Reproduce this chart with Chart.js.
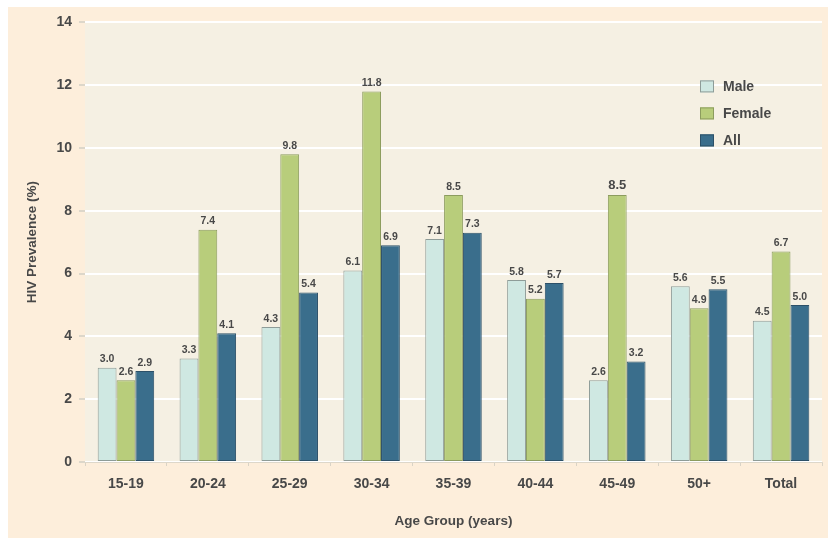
<!DOCTYPE html>
<html>
<head>
<meta charset="utf-8">
<title>HIV Prevalence by Age Group</title>
<script src="https://cdn.jsdelivr.net/npm/chart.js@4.4.1/dist/chart.umd.min.js"></script>
<style>
  html, body { margin: 0; padding: 0; background: #fff; }
  .wrap { position: absolute; left: 8px; top: 7px; width: 820px; height: 531px; background: #fdeedb; }
  canvas { display: block; }
</style>
</head>
<body>
<div class="wrap"><canvas id="chart" width="820" height="531"></canvas></div>
<script>
/* ── DATA ── */
const ageGroups = ['15-19', '20-24', '25-29', '30-34', '35-39', '40-44', '45-49', '50+', 'Total'];
const male   = [3.0, 3.3, 4.3, 6.1, 7.1, 5.8, 2.6, 5.6, 4.5];
const female = [2.6, 7.4, 9.8, 11.8, 8.5, 5.2, 8.5, 4.9, 6.7];
const all    = [2.9, 4.1, 5.4, 6.9, 7.3, 5.7, 3.2, 5.5, 5.0];
const yTicks = [0, 2, 4, 6, 8, 10, 12, 14];

/* ── COLOURS ── */
const COLORS = {
  male: '#cfe8e2', maleEdge: '#8e9c98',
  female: '#b8cd7b', femaleEdge: '#8c9c5e',
  all: '#3a6e8c', allEdge: '#2c5068',
  plot: '#f5f0e3',
  text: '#484848',
};
const FONT = 'Arial, "Liberation Sans", sans-serif';

/* ── PLUGINS ── */
// shade the plotting area
const plotBg = {
  id: 'plotBg',
  beforeDraw(chart) {
    const { ctx, chartArea: a } = chart;
    ctx.save();
    ctx.fillStyle = COLORS.plot;
    ctx.fillRect(a.left, a.top, a.right - a.left, a.bottom - a.top);
    ctx.restore();
  }
};

// value labels above every bar
const valueLabels = {
  id: 'valueLabels',
  afterDatasetsDraw(chart) {
    const { ctx } = chart;
    ctx.save();
    ctx.fillStyle = COLORS.text;
    ctx.textAlign = 'center';
    ctx.textBaseline = 'bottom';
    chart.data.datasets.forEach((ds, di) => {
      chart.getDatasetMeta(di).data.forEach((bar, i) => {
        const big = di === 1 && i === 6;
        ctx.font = 'bold ' + (big ? 13 : 10.5) + 'px ' + FONT;
        ctx.fillText(ds.data[i].toFixed(1), bar.x, bar.y - 3);
      });
    });
    ctx.restore();
  }
};

// vertical legend inside the plot, top right
const innerLegend = {
  id: 'innerLegend',
  afterDraw(chart) {
    const { ctx, chartArea: a } = chart;
    const x = a.left + 615, y0 = a.top + 58, step = 27, bw = 14, bh = 12;
    ctx.save();
    ctx.font = 'bold 14px ' + FONT;
    ctx.textBaseline = 'middle';
    chart.data.datasets.forEach((ds, i) => {
      const y = y0 + i * step;
      ctx.fillStyle = ds.backgroundColor;
      ctx.fillRect(x, y, bw, bh);
      ctx.strokeStyle = ds.borderColor;
      ctx.lineWidth = 1;
      ctx.strokeRect(x + 0.5, y + 0.5, bw - 1, bh - 1);
      ctx.fillStyle = COLORS.text;
      ctx.fillText(ds.label, x + 23, y + bh / 2 + 1);
    });
    ctx.restore();
  }
};

/* ── CHART ── */
const barStyle = { borderWidth: 1, borderSkipped: false, categoryPercentage: 0.69, barPercentage: 1.0 };

new Chart(document.getElementById('chart'), {
  type: 'bar',
  data: {
    labels: ageGroups,
    datasets: [
      { label: 'Male', data: male, backgroundColor: COLORS.male, borderColor: COLORS.maleEdge, ...barStyle },
      { label: 'Female', data: female, backgroundColor: COLORS.female, borderColor: COLORS.femaleEdge, ...barStyle },
      { label: 'All', data: all, backgroundColor: COLORS.all, borderColor: COLORS.allEdge, ...barStyle },
    ],
  },
  options: {
    responsive: false,
    animation: false,
    layout: { padding: { left: 12, top: 13, right: 6, bottom: 0 } },
    plugins: { legend: { display: false }, tooltip: { enabled: false } },
    scales: {
      x: {
        grid: { display: true, drawOnChartArea: false, offset: true, tickLength: 4, tickColor: '#d9d3c6' },
        border: { display: true, color: '#ddd7ca' },
        ticks: { color: COLORS.text, font: { family: FONT, size: 14, weight: 'bold' }, padding: 10, maxRotation: 0 },
        title: { display: true, text: 'Age Group (years)', color: COLORS.text,
          font: { family: FONT, size: 13.5, weight: 'bold' }, padding: { top: 4, bottom: 9 } },
        afterFit(scale) { scale.height = 76; },
      },
      y: {
        min: 0, max: 14,
        afterBuildTicks(scale) { scale.ticks = yTicks.map(v => ({ value: v })); },
        grid: { color: '#ffffff', lineWidth: 2, tickLength: 6, tickColor: '#ddd7ca' },
        border: { display: false },
        ticks: { color: COLORS.text, font: { family: FONT, size: 14, weight: 'bold' }, padding: 7 },
        title: { display: true, text: 'HIV Prevalence (%)', color: COLORS.text,
          font: { family: FONT, size: 13.5, weight: 'bold' }, padding: { top: 4, bottom: 4 } },
        afterFit(scale) { scale.width = 65; },
      },
    },
  },
  plugins: [plotBg, valueLabels, innerLegend],
});
</script>
</body>
</html>
